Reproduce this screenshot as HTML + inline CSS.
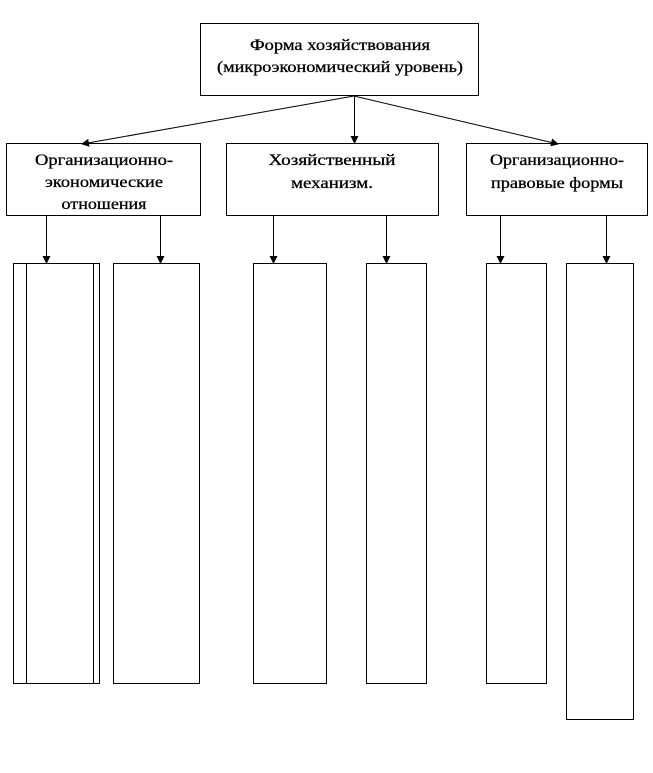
<!DOCTYPE html>
<html><head><meta charset="utf-8"><style>
body{margin:0;background:#fff}
svg text{font-family:"Liberation Serif",serif;font-size:16px;fill:#000;stroke:#000;stroke-width:0.3}
</style></head><body>
<svg width="653" height="768" xmlns="http://www.w3.org/2000/svg">
<defs><marker id="a" markerWidth="8" markerHeight="8" refX="7" refY="4" orient="auto" markerUnits="userSpaceOnUse"><path d="M0,0 L8,4 L0,8z" fill="#000"/></marker></defs>
<g fill="none" stroke="#000" stroke-width="1">
<rect x="200.5" y="23.5" width="278" height="72"/>
<rect x="6.5" y="143.5" width="194" height="72"/>
<rect x="226.5" y="143.5" width="212" height="72"/>
<rect x="466.5" y="143.5" width="181" height="72"/>
<rect x="13.5" y="263.5" width="86" height="420"/>
<line x1="26.5" y1="263" x2="26.5" y2="684"/>
<line x1="93.5" y1="263" x2="93.5" y2="684"/>
<rect x="113.5" y="263.5" width="86" height="420"/>
<rect x="253.5" y="263.5" width="73" height="420"/>
<rect x="366.5" y="263.5" width="60" height="420"/>
<rect x="486.5" y="263.5" width="60" height="420"/>
<rect x="566.5" y="263.5" width="67" height="456"/>
<line x1="354" y1="96" x2="82" y2="144" marker-end="url(#a)"/>
<line x1="354.5" y1="96" x2="354.5" y2="143" marker-end="url(#a)"/>
<line x1="354" y1="96" x2="558" y2="144" marker-end="url(#a)"/>
<line x1="46.5" y1="216" x2="46.5" y2="263" marker-end="url(#a)"/>
<line x1="160.5" y1="216" x2="160.5" y2="263" marker-end="url(#a)"/>
<line x1="273.5" y1="216" x2="273.5" y2="263" marker-end="url(#a)"/>
<line x1="386.5" y1="216" x2="386.5" y2="263" marker-end="url(#a)"/>
<line x1="500.5" y1="216" x2="500.5" y2="263" marker-end="url(#a)"/>
<line x1="606.5" y1="216" x2="606.5" y2="263" marker-end="url(#a)"/>
</g>
<g text-anchor="middle">
<text x="340" y="50" textLength="180" lengthAdjust="spacingAndGlyphs">Форма хозяйствования</text>
<text x="340" y="72" textLength="246" lengthAdjust="spacingAndGlyphs">(микроэкономический уровень)</text>
<text x="104" y="165" textLength="138" lengthAdjust="spacingAndGlyphs">Организационно-</text>
<text x="104" y="187" textLength="118" lengthAdjust="spacingAndGlyphs">экономические</text>
<text x="104" y="209" textLength="85" lengthAdjust="spacingAndGlyphs">отношения</text>
<text x="332" y="165" textLength="127" lengthAdjust="spacingAndGlyphs">Хозяйственный</text>
<text x="332" y="188" textLength="82" lengthAdjust="spacingAndGlyphs">механизм.</text>
<text x="557" y="165" textLength="134" lengthAdjust="spacingAndGlyphs">Организационно-</text>
<text x="557" y="188" textLength="132" lengthAdjust="spacingAndGlyphs">правовые формы</text>
</g>
</svg>
</body></html>
